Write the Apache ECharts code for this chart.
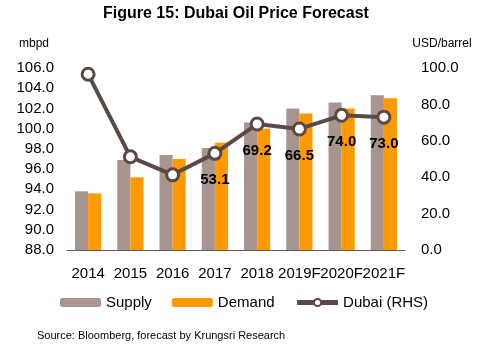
<!DOCTYPE html>
<html>
<head>
<meta charset="utf-8">
<style>
  html, body { margin: 0; padding: 0; background: #ffffff; }
  #chart { width: 489px; height: 350px; }
</style>
<script src="https://cdn.jsdelivr.net/npm/echarts@6/dist/echarts.min.js"></script>
</head>
<body>
<div id="chart"></div>
<script>
// Oil market balance (mbpd) and Dubai crude price (USD/barrel)
const years = ['2014', '2015', '2016', '2017', '2018', '2019F', '2020F', '2021F'];
const supply = [93.8, 96.9, 97.4, 98.1, 100.6, 102.0, 102.6, 103.3];
const demand = [93.6, 95.2, 97.0, 98.6, 100.0, 101.5, 102.0, 103.0];
const dubai = [96.6, 51.2, 41.3, 53.1, 69.2, 66.5, 74.0, 73.0];
// price labels are printed from 2017 onward
const firstLabelled = 3;

const FONT = '"Liberation Sans", Arial, sans-serif';
const LINE = '#594A47';
const chart = echarts.init(document.getElementById('chart'), null, { renderer: 'canvas' });

const dubaiData = dubai.map((v, i) => ({
  value: v,
  label: { show: i >= firstLabelled }
}));

chart.setOption({
  animation: false,
  backgroundColor: '#ffffff',
  textStyle: { fontFamily: FONT },
  title: {
    text: 'Figure 15: Dubai Oil Price Forecast',
    left: 103,
    top: 6,
    padding: 0,
    textStyle: { fontFamily: FONT, fontSize: 16, fontWeight: 'bold', color: '#000000' }
  },
  legend: {
    left: 60,
    top: 295,
    padding: 0,
    itemWidth: 41,
    itemHeight: 9,
    itemGap: 20,
    textStyle: { fontFamily: FONT, fontSize: 15, color: '#000000' },
    data: [
      'Supply',
      'Demand',
      { name: 'Dubai (RHS)', lineStyle: { width: 5, color: LINE } }
    ]
  },
  grid: { left: 67, right: 84, top: 68, bottom: 100, containLabel: false },
  xAxis: {
    type: 'category',
    data: years,
    axisLine: { lineStyle: { color: '#595959', width: 1 } },
    axisTick: { show: false },
    axisLabel: { fontFamily: FONT, fontSize: 15, color: '#000000', margin: 16, interval: 0 }
  },
  yAxis: [
    {
      type: 'value',
      min: 88,
      max: 106,
      interval: 2,
      name: 'mbpd',
      nameLocation: 'end',
      nameGap: 18,
      nameTextStyle: { fontFamily: FONT, fontSize: 12, color: '#000000', align: 'center', padding: [0, 66, 0, 0] },
      axisLine: { show: false },
      axisTick: { show: false },
      splitLine: { show: false },
      axisLabel: { fontFamily: FONT, fontSize: 15, color: '#000000', margin: 13, formatter: v => v.toFixed(1) }
    },
    {
      type: 'value',
      min: 0,
      max: 100,
      interval: 20,
      name: 'USD/barrel',
      nameLocation: 'end',
      nameGap: 18,
      nameTextStyle: { fontFamily: FONT, fontSize: 12, color: '#000000', align: 'center', padding: [0, 0, 0, 74] },
      axisLine: { show: false },
      axisTick: { show: false },
      splitLine: { show: false },
      axisLabel: { fontFamily: FONT, fontSize: 15, color: '#000000', margin: 16, formatter: v => v.toFixed(1) }
    }
  ],
  series: [
    {
      name: 'Supply',
      type: 'bar',
      yAxisIndex: 0,
      data: supply,
      barGap: '0%',
      barCategoryGap: '38%',
      itemStyle: { color: '#A9958F' }
    },
    {
      name: 'Demand',
      type: 'bar',
      yAxisIndex: 0,
      data: demand,
      barGap: '0%',
      barCategoryGap: '38%',
      itemStyle: { color: '#FF9900' }
    },
    {
      name: 'Dubai (RHS)',
      type: 'line',
      yAxisIndex: 1,
      data: dubaiData,
      z: 5,
      symbol: 'circle',
      symbolSize: 12,
      lineStyle: { color: LINE, width: 4 },
      itemStyle: { color: '#ffffff', borderColor: LINE, borderWidth: 3 },
      label: {
        position: 'bottom',
        distance: 12,
        fontFamily: FONT,
        fontSize: 15,
        fontWeight: 'bold',
        color: '#000000',
        formatter: p => p.value.toFixed(1)
      }
    }
  ],
  graphic: [
    {
      type: 'text',
      left: 37,
      top: 330,
      style: {
        text: 'Source: Bloomberg, forecast by Krungsri Research',
        font: '11px ' + FONT,
        fill: '#000000'
      }
    }
  ]
});
</script>
</body>
</html>
